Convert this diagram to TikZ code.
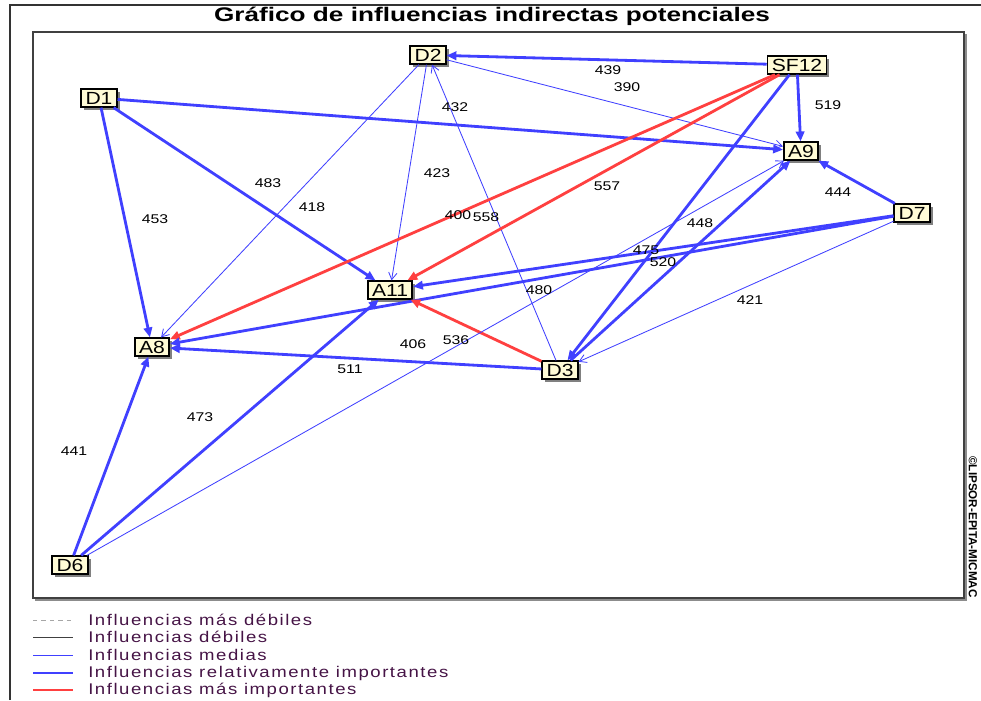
\documentclass[tikz,border=0pt]{standalone}
\usepackage{fontspec}
\setmainfont{Liberation Sans}
\newfontfamily\titlefont[FakeStretch=1.33]{Liberation Sans}
\newfontfamily\boxfont[FakeStretch=1.2]{Liberation Sans}
\newfontfamily\valfont[FakeStretch=1.25]{Liberation Sans}
\newfontfamily\legendfont[FakeStretch=1.2,LetterSpace=10]{Liberation Sans}
\usetikzlibrary{arrows.meta,shadows}

\definecolor{infblue}{RGB}{64,64,255}
\definecolor{infred}{RGB}{255,64,64}
\definecolor{boxfill}{RGB}{255,251,214}
\definecolor{legendtext}{RGB}{70,20,70}

\tikzset{
  var/.style={draw=black, line width=1.2pt, fill=boxfill, inner xsep=3pt, inner ysep=1.5pt,
    minimum height=12.5pt, font=\boxfont\fontsize{12.5}{13}\selectfont,
    drop shadow={shadow xshift=2pt, shadow yshift=-2pt, fill=black!50, opacity=1}},
  masdebline/.style={draw=black!35, line width=0.6pt, dash pattern=on 3pt off 3pt},
  debline/.style={draw=black!75, line width=0.6pt},
  medline/.style={draw=infblue, line width=0.6pt},
  relline/.style={draw=infblue, line width=2pt},
  masline/.style={draw=infred, line width=2pt},
  media/.style={medline, -{Straight Barb[length=5pt,width=6pt]}},
  relimp/.style={relline, -{Triangle[length=7pt,width=6pt]}},
  masimp/.style={masline, -{Triangle[length=7pt,width=6pt]}},
  val/.style={inner sep=0pt, font=\valfont\fontsize{9}{10}\selectfont},
  leg/.style={anchor=west, inner sep=0pt, text=legendtext, font=\legendfont\fontsize{11}{12}\selectfont}
}

\begin{document}
\begin{tikzpicture}[x=0.025cm, y=-0.025cm]
  \useasboundingbox (0,0) rectangle (981,700);

  % frames and title
  \draw[black!80, line width=1.2pt] (10,700) -- (10,5) -- (981,5);
  \draw[black!75, line width=1.3pt] (33,32) rectangle (964,598);
  \draw[black!45, line width=1pt] (966,34) -- (966,600) -- (35,600);
  \node[font=\titlefont\bfseries\fontsize{14}{16}\selectfont] (title) at (492,16)
    {Gráfico de influencias indirectas potenciales};
  \node[rotate=-90, inner sep=0pt, font=\bfseries\fontsize{8.3}{9}\selectfont] (copy) at (973,527)
    {©LIPSOR-EPITA-MICMAC};

  % variables
  \node[var] (d2)   at (428,55)  {D2};
  \node[var] (sf12) at (797,65)  {SF12};
  \node[var] (a9)   at (801,151) {A9};
  \node[var] (d1)   at (99,98)   {D1};
  \node[var] (a11)  at (390,290) {A11};
  \node[var] (a8)   at (152,347) {A8};
  \node[var] (d3)   at (560,370) {D3};
  \node[var] (d7)   at (912,213) {D7};
  \node[var] (d6)   at (70,565)  {D6};

  % influences
  \draw[relimp] (sf12) -- (d2);
  \draw[media]  (d2) -- (a9);
  \draw[relimp] (sf12) -- (a9);
  \draw[relimp] (d1) -- (a9);
  \draw[relimp] (d1) -- (a11);
  \draw[relimp] (d1) -- (a8);
  \draw[media]  (d2) -- (a8);
  \draw[media]  (d2) -- (a11);
  \draw[media]  (d3) -- (d2);
  \draw[masimp] (sf12) -- (a8);
  \draw[masimp] (sf12) -- (a11);
  \draw[relimp] (sf12) -- (d3);
  \draw[relimp] (d3) -- (a9);
  \draw[relimp] (d7) -- (a9);
  \draw[relimp] (d7) -- (a11);
  \draw[relimp] (d7) -- (a8);
  \draw[media]  (d7) -- (d3);
  \draw[masimp] (d3) -- (a11);
  \draw[relimp] (d3) -- (a8);
  \draw[relimp] (d6) -- (a8);
  \draw[relimp] (d6) -- (a11);
  \draw[media]  (d6) -- (a9);

  % values
  \foreach \x/\y/\v in {
    608/70/439, 627/87/390, 455/107/432, 828/105/519,
    268/183/483, 312/207/418, 155/219/453, 437/173/423,
    607/186/557, 458/215/400, 486/217/558, 838/192/444,
    700/223/448, 646/250/475, 663/262/520, 539/290/480,
    750/300/421, 413/344/406, 456/340/536, 350/369/511,
    200/417/473, 74/451/441}
    \node[val] (v\v) at (\x,\y) {\v};

  % legend
  \foreach \y/\sty/\txt in {
    620/masdebline/{Influencias más débiles},
    637/debline/{Influencias débiles},
    655/medline/{Influencias medias},
    673/relline/{Influencias relativamente importantes},
    690/masline/{Influencias más importantes}} {
    \draw[\sty] (33,\y) -- (73,\y);
    \node[leg] (leg\y) at (88,\y) {\txt};
  }
\end{tikzpicture}
\end{document}
